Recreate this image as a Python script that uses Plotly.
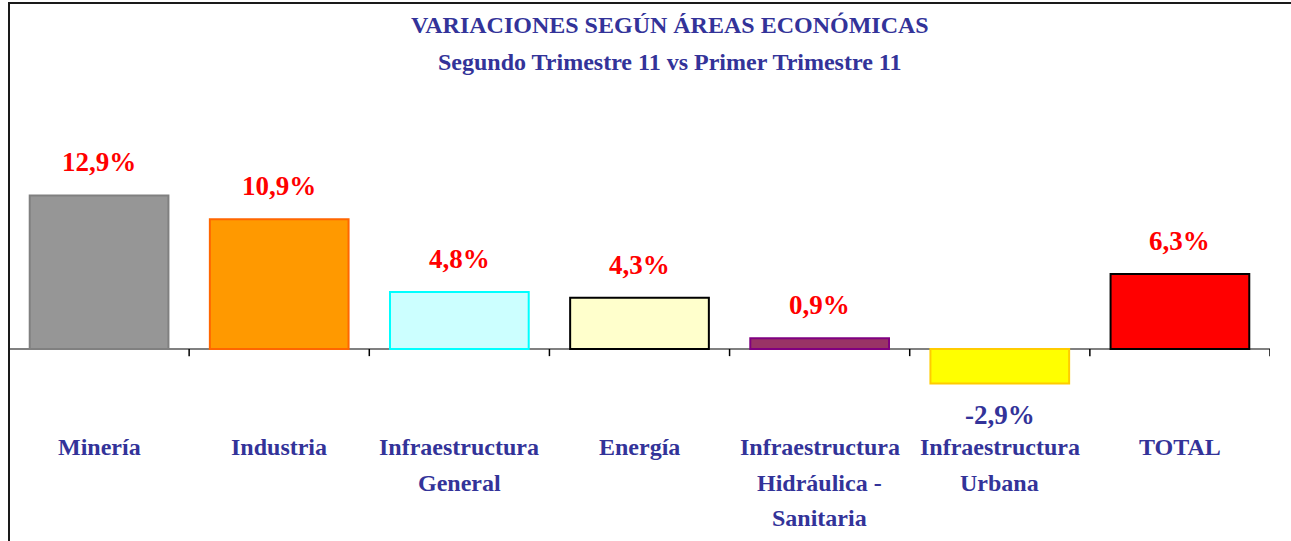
import plotly.graph_objects as go

# Datos del gráfico
areas = ['Minería', 'Industria', 'Infraestructura<br>General', 'Energía',
         'Infraestructura<br>Hidráulica -<br>Sanitaria', 'Infraestructura<br>Urbana', 'TOTAL']
variacion = [12.9, 10.9, 4.8, 4.3, 0.9, -2.9, 6.3]
relleno = ['#969696', '#FF9900', '#CCFFFF', '#FFFFCC', '#993366', '#FFFF00', '#FF0000']
borde = ['#808080', '#FF6600', '#00FFFF', '#000000', '#800080', '#FFCC00', '#000000']

titulo = 'VARIACIONES SEGÚN ÁREAS ECONÓMICAS'
subtitulo = 'Segundo Trimestre 11 vs Primer Trimestre 11'

AZUL = '#333399'
FUENTE = 'Liberation Serif, Times New Roman, serif'

W, H = 1291, 541
M = dict(l=9, r=21, t=100, b=121)
alto = H - M['t'] - M['b']

def py(p):
    # píxel vertical -> coordenada paper
    return (H - M['b'] - p) / alto

fig = go.Figure()

fig.add_trace(go.Bar(x=list(range(len(areas))), y=variacion,
                     marker=dict(color=relleno, line=dict(color=borde, width=2)),
                     hoverinfo='skip'))

# Etiquetas de datos
for i, v in enumerate(variacion):
    txt = f'{v:.1f}%'.replace('.', ',')
    fig.add_annotation(x=i, y=v, text=f'<b>{txt}</b>', showarrow=False,
                       yanchor='bottom' if v >= 0 else 'top',
                       yshift=16 if v >= 0 else -14,
                       font=dict(family=FUENTE, size=27,
                                 color='#FF0000' if v >= 0 else AZUL))

# Nombres de categoría (una línea por anotación para imitar el interlineado)
for i, a in enumerate(areas):
    for j, linea in enumerate(a.split('<br>')):
        fig.add_annotation(x=i, y=py(447 + 35.5 * j), xref='x', yref='paper',
                           text=f'<b>{linea}</b>', showarrow=False, yanchor='middle',
                           font=dict(family=FUENTE, size=24, color=AZUL))

# Títulos
fig.add_annotation(x=0.524, y=py(25), xref='paper', yref='paper', text=f'<b>{titulo}</b>',
                   showarrow=False, yanchor='middle',
                   font=dict(family=FUENTE, size=24, color=AZUL))
fig.add_annotation(x=0.524, y=py(62), xref='paper', yref='paper', text=f'<b>{subtitulo}</b>',
                   showarrow=False, yanchor='middle',
                   font=dict(family=FUENTE, size=24, color=AZUL))

# Marcas del eje en los límites de categoría
for k in range(len(areas) + 1):
    fig.add_shape(type='line', x0=k - 0.5, x1=k - 0.5, y0=0, y1=-0.6,
                  xref='x', yref='y', line=dict(color='#000000', width=1.5))

# Borde del gráfico
fig.add_shape(type='rect', xref='paper', yref='paper', x0=0, x1=1.05, y0=-0.5, y1=py(3),
              line=dict(color='#1a1a1a', width=2), layer='above')

fig.update_layout(
    width=W, height=H, margin=M,
    paper_bgcolor='white', plot_bgcolor='white',
    showlegend=False, bargap=0.23,
    xaxis=dict(range=[-0.5, len(areas) - 0.5], showgrid=False, showline=False, ticks='',
               showticklabels=False, zeroline=False, fixedrange=True),
    yaxis=dict(range=[-(H - M['b'] - 349) / 11.9, (349 - M['t']) / 11.9], showgrid=False,
               showticklabels=False, zeroline=True, zerolinecolor='#808080', zerolinewidth=1.5,
               fixedrange=True),
)

fig.write_html('out.html', config={'displayModeBar': False},
               post_script="document.body.style.margin='0';")
